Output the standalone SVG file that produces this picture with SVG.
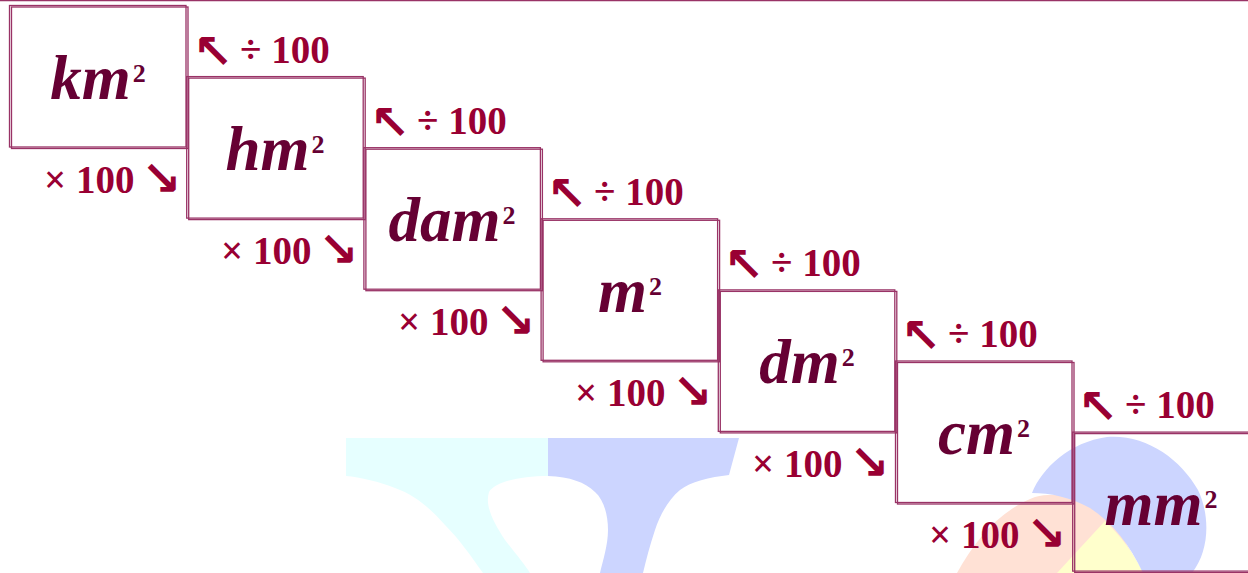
<svg xmlns="http://www.w3.org/2000/svg" width="1248" height="573" viewBox="0 0 1248 573">
<style>
.box{fill:none;stroke:#993366;stroke-width:1.3}
.unit{font-family:"Liberation Serif","Times New Roman",serif;font-weight:bold;font-style:italic;font-size:63px;fill:#660033;text-anchor:middle}
.lab{font-family:"Liberation Serif","Times New Roman",serif;font-weight:bold;font-size:39px;fill:#990033}
.arr{font-family:"DejaVu Sans",sans-serif;font-weight:bold;font-size:48px;fill:#990033}
</style>
<rect width="1248" height="573" fill="#ffffff"/>
<g id="watermark">
<path d="M346,438 L548,438 L548,476 C520,476 495,482 489,492 C485,505 492,520 505,540 C515,553 525,565 530,573 L483,573 C470,555 460,540 445,525 C430,508 415,495 395,488 C380,482 360,477 346,476 Z" fill="#e6ffff"/>
<path d="M548,438 L739,438 L729,475 C710,477 690,482 680,490 C668,500 660,515 655,530 C650,545 646,560 643,573 L600,573 C603,560 608,545 608,530 C608,515 604,500 595,492 C585,482 570,477 548,476 Z" fill="#ccd5ff"/>
<path d="M957,573 C975,540 1000,510 1035,497 C1060,490 1090,500 1110,515 L1143,573 Z" fill="#ffe1d5"/>
<path d="M1057,573 L1105,521 C1120,535 1135,555 1143,573 Z" fill="#ffffcc"/>
<path d="M1032,493 C1042,468 1070,442 1107,437 C1145,434 1180,458 1198,490 C1210,515 1210,550 1192,573 L1143,573 C1130,545 1112,522 1090,508 C1070,497 1050,493 1032,493 Z" fill="#ccd5ff"/>
</g>
<line x1="0" y1="0.6" x2="1248" y2="0.6" stroke="#993366" stroke-width="1.3"/>
<g id="connectors">
<g id="div1"><text class="arr" x="193" y="68">↖</text><text class="lab" x="240" y="63">÷ 100</text></g>
<g id="div2"><text class="arr" x="370" y="139">↖</text><text class="lab" x="417" y="134">÷ 100</text></g>
<g id="div3"><text class="arr" x="547" y="210">↖</text><text class="lab" x="594" y="205">÷ 100</text></g>
<g id="div4"><text class="arr" x="724" y="281">↖</text><text class="lab" x="771" y="276">÷ 100</text></g>
<g id="div5"><text class="arr" x="901" y="352">↖</text><text class="lab" x="948" y="347">÷ 100</text></g>
<g id="div6"><text class="arr" x="1078" y="423">↖</text><text class="lab" x="1125" y="418">÷ 100</text></g>
<g id="mul1"><text class="lab" x="44" y="193">× 100</text><text class="arr" x="141" y="195">↘</text></g>
<g id="mul2"><text class="lab" x="221" y="264">× 100</text><text class="arr" x="318" y="266">↘</text></g>
<g id="mul3"><text class="lab" x="398" y="335">× 100</text><text class="arr" x="495" y="337">↘</text></g>
<g id="mul4"><text class="lab" x="575" y="406">× 100</text><text class="arr" x="672" y="408">↘</text></g>
<g id="mul5"><text class="lab" x="752" y="477">× 100</text><text class="arr" x="849" y="479">↘</text></g>
<g id="mul6"><text class="lab" x="929" y="548">× 100</text><text class="arr" x="1026" y="550">↘</text></g>
</g>
<g id="km2"><rect class="box" x="9.5" y="5.5" width="176.5" height="141.5"/><rect class="box" x="11.5" y="7" width="176.5" height="141.5"/><text class="unit" x="98" y="99">km<tspan style="font-size:26px;font-style:normal" dx="2" dy="-17">2</tspan></text></g>
<g id="hm2"><rect class="box" x="186.7" y="76.6" width="176.5" height="141.5"/><rect class="box" x="188.7" y="78.1" width="176.5" height="141.5"/><text class="unit" x="275" y="170">hm<tspan style="font-size:26px;font-style:normal" dx="2" dy="-17">2</tspan></text></g>
<g id="dam2"><rect class="box" x="363.9" y="147.7" width="176.5" height="141.5"/><rect class="box" x="365.9" y="149.2" width="176.5" height="141.5"/><text class="unit" x="452" y="241">dam<tspan style="font-size:26px;font-style:normal" dx="2" dy="-17">2</tspan></text></g>
<g id="m2"><rect class="box" x="541.1" y="218.8" width="176.5" height="141.5"/><rect class="box" x="543.1" y="220.3" width="176.5" height="141.5"/><text class="unit" x="630" y="312">m<tspan style="font-size:26px;font-style:normal" dx="2" dy="-17">2</tspan></text></g>
<g id="dm2"><rect class="box" x="718.3" y="289.9" width="176.5" height="141.5"/><rect class="box" x="720.3" y="291.4" width="176.5" height="141.5"/><text class="unit" x="807" y="383">dm<tspan style="font-size:26px;font-style:normal" dx="2" dy="-17">2</tspan></text></g>
<g id="cm2"><rect class="box" x="895.5" y="361" width="176.5" height="141.5"/><rect class="box" x="897.5" y="362.5" width="176.5" height="141.5"/><text class="unit" x="984" y="454">cm<tspan style="font-size:26px;font-style:normal" dx="2" dy="-17">2</tspan></text></g>
<g id="mm2"><rect class="box" x="1072.7" y="432.1" width="176.5" height="139"/><rect class="box" x="1074.7" y="433.6" width="176.5" height="139"/><text class="unit" x="1161" y="525">mm<tspan style="font-size:26px;font-style:normal" dx="2" dy="-17">2</tspan></text></g>
</svg>
